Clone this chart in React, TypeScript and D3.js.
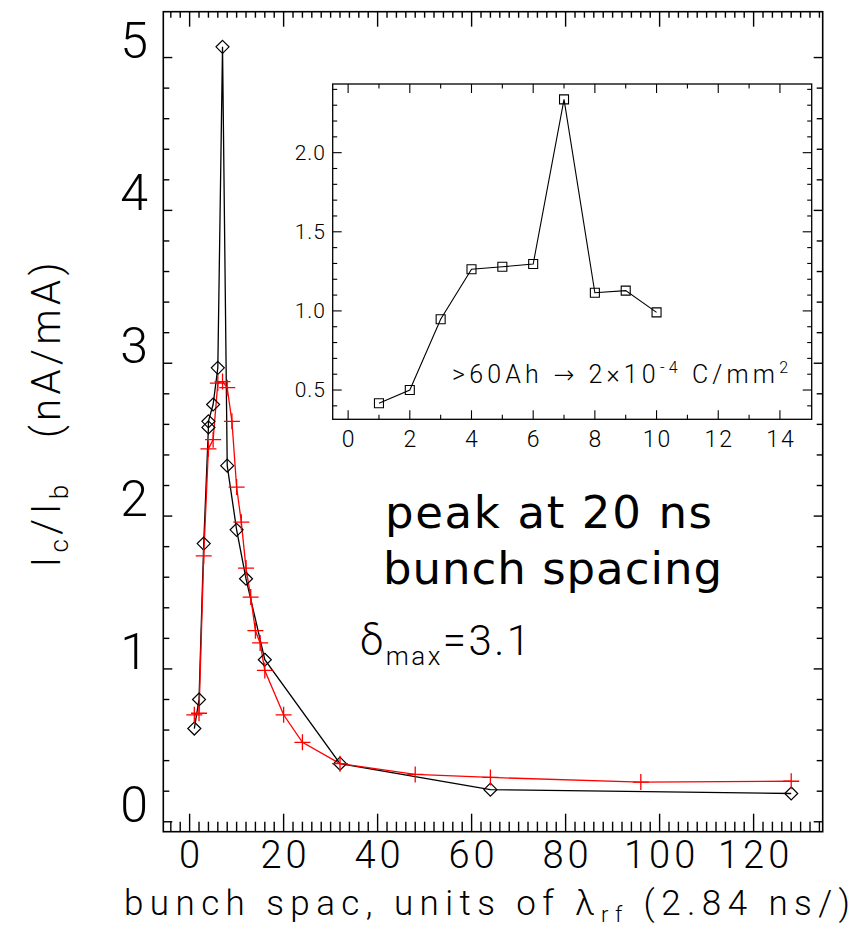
import React from "react";
import * as d3 from "d3";

// ---- main plot data ----
const blackX = [1, 2, 3, 4, 4, 5, 6, 7, 8, 10, 12, 16, 32, 64, 128];
const blackY = [0.61, 0.8, 1.82, 2.58, 2.62, 2.73, 2.97, 5.07, 2.33, 1.91, 1.59, 1.06, 0.38, 0.21, 0.185];

const redX = [1, 2, 3, 4, 5, 6, 7, 8, 9, 10, 11, 12, 13, 14, 15, 16, 20, 24, 32, 48, 64, 96, 128];
const redY = [0.7, 0.71, 1.74, 2.44, 2.5, 2.87, 2.88, 2.84, 2.62, 2.19, 1.96, 1.66, 1.47, 1.25, 1.17, 0.99, 0.7, 0.52, 0.38, 0.31, 0.29, 0.26, 0.265];

const xMajorTicks = [0, 20, 40, 60, 80, 100, 120];
const yMajorTicks = [0, 1, 2, 3, 4, 5];

// ---- inset data ----
const insetX = [1, 2, 3, 4, 5, 6, 7, 8, 9, 10];
const insetY = [0.416, 0.5, 0.947, 1.263, 1.279, 1.296, 2.337, 1.115, 1.128, 0.991];
const insetXTicks = [0, 2, 4, 6, 8, 10, 12, 14];
const insetYTicks = [0.5, 1.0, 1.5, 2.0];

const FONT = "Roboto, 'DejaVu Sans', sans-serif";
const COMIC = "'DejaVu Sans', sans-serif";

export default function App() {
  const xM = d3.scaleLinear().domain([-5.6, 134.7]).range([163.3, 822.7]);
  const yM = d3.scaleLinear().domain([-0.065, 5.3]).range([831.7, 11.7]);
  const xI = d3.scaleLinear().domain([-0.5, 15.03]).range([332.7, 811.7]);
  const yI = d3.scaleLinear().domain([0.315, 2.434]).range([419.3, 84]);

  const xMinor = d3.range(-4, 135, 2).filter((v) => v % 20 !== 0);
  const yMinor = d3.range(0, 26, 1).map((v) => v / 5).filter((v) => Math.abs(v - Math.round(v)) > 1e-6);
  const ixMinor = d3.range(0, 15, 1).filter((v) => v % 2 !== 0);
  const iyMinor = d3.range(4, 25, 1).map((v) => v / 10).filter((v) => Math.abs(v * 2 - Math.round(v * 2)) > 1e-6);

  const blackPts = blackX.map((x, i) => [x, blackY[i]] as [number, number]);
  const redPts = redX.map((x, i) => [x, redY[i]] as [number, number]);
  const insetPts = insetX.map((x, i) => [x, insetY[i]] as [number, number]);

  const lineM = d3.line<[number, number]>().x((d) => xM(d[0])).y((d) => yM(d[1]));
  const lineI = d3.line<[number, number]>().x((d) => xI(d[0])).y((d) => yI(d[1]));

  const mL = xM.range()[0], mR = xM.range()[1], mT = yM.range()[1], mB = yM.range()[0];
  const iL = xI.range()[0], iR = xI.range()[1], iT = yI.range()[1], iB = yI.range()[0];

  const diamond = (cx: number, cy: number, r: number) =>
    `M${cx},${cy - r}L${cx + r},${cy}L${cx},${cy + r}L${cx - r},${cy}Z`;
  const plus = (cx: number, cy: number, r: number) =>
    `M${cx - r},${cy}L${cx + r},${cy}M${cx},${cy - r}L${cx},${cy + r}`;
  const square = (cx: number, cy: number, r: number) =>
    `M${cx - r},${cy - r}H${cx + r}V${cy + r}H${cx - r}Z`;

  return (
    <svg width={863} height={928} style={{ position: "absolute", left: 0, top: 0, background: "#fff" }}>
      <rect x={0} y={0} width={863} height={928} fill="#fff" />
      {/* main frame */}
      <rect x={mL} y={mT} width={mR - mL} height={mB - mT} fill="none" stroke="#000" strokeWidth={1.6} />
      {/* main ticks */}
      <g stroke="#000" strokeWidth={1.4}>
        {xMajorTicks.map((v) => (
          <g key={"xm" + v}>
            <line x1={xM(v)} x2={xM(v)} y1={mB} y2={mB - 18} />
            <line x1={xM(v)} x2={xM(v)} y1={mT} y2={mT + 15} />
          </g>
        ))}
        {xMinor.map((v) => (
          <g key={"xn" + v}>
            <line x1={xM(v)} x2={xM(v)} y1={mB} y2={mB - 10} />
            <line x1={xM(v)} x2={xM(v)} y1={mT} y2={mT + 6} />
          </g>
        ))}
        {yMajorTicks.map((v) => (
          <g key={"ym" + v}>
            <line x1={mL} x2={mL + 9} y1={yM(v)} y2={yM(v)} />
            <line x1={mR} x2={mR - 9} y1={yM(v)} y2={yM(v)} />
          </g>
        ))}
        {yMinor.map((v) => (
          <g key={"yn" + v}>
            <line x1={mL} x2={mL + 6} y1={yM(v)} y2={yM(v)} />
            <line x1={mR} x2={mR - 6} y1={yM(v)} y2={yM(v)} />
          </g>
        ))}
      </g>
      {/* main tick labels */}
      <g fontFamily={FONT} fontWeight={300} fill="#000">
        {xMajorTicks.map((v) => (
          <text key={"xl" + v} x={xM(v) + 2} y={868} fontSize={38} textAnchor="middle" letterSpacing={4}>
            {v}
          </text>
        ))}
        {yMajorTicks.map((v) => (
          <text key={"yl" + v} x={148} y={yM(v)} fontSize={50} textAnchor="end">
            {v}
          </text>
        ))}
      </g>
      {/* axis titles */}
      <text x={124} y={915} fontFamily={FONT} fontWeight={300} fontSize={35} textLength={726} lengthAdjust="spacing" style={{ whiteSpace: "pre" }}>
        bunch spac, units of λ<tspan fontSize={22} dy={7}>rf</tspan>
        <tspan dy={-7}> (2.84 ns/)</tspan>
      </text>
      <text
        transform="translate(60,415) rotate(-90)"
        fontFamily={FONT}
        fontWeight={300}
        fontSize={40}
        textAnchor="middle"
        textLength={305}
        lengthAdjust="spacing"
        style={{ whiteSpace: "pre" }}
      >
        I<tspan fontSize={26} dy={8}>c</tspan>
        <tspan dy={-8}>/I</tspan>
        <tspan fontSize={26} dy={8}>b</tspan>
        <tspan dy={-8}>   (nA/mA)</tspan>
      </text>

      {/* data lines */}
      <path d={lineM(blackPts) || ""} fill="none" stroke="#000" strokeWidth={1.3} />
      <path d={lineM(redPts) || ""} fill="none" stroke="#ff0000" strokeWidth={1.3} />
      {blackPts.map((d, i) => (
        <path key={"bd" + i} d={diamond(xM(d[0]), yM(d[1]), 6.5)} fill="none" stroke="#000" strokeWidth={1.2} />
      ))}
      {redPts.map((d, i) => (
        <path key={"rp" + i} d={plus(xM(d[0]), yM(d[1]), 8)} fill="none" stroke="#ff0000" strokeWidth={1.3} />
      ))}

      {/* annotations */}
      <text x={360} y={655} fontFamily={FONT} fontWeight={300} fontSize={42} textLength={170} lengthAdjust="spacing">
        δ<tspan fontSize={26} dy={10}>max</tspan>
        <tspan dy={-10}>=3.1</tspan>
      </text>
      <text x={385} y={528} fontFamily={COMIC} fontSize={45} textLength={327} lengthAdjust="spacing">
        peak at 20 ns
      </text>
      <text x={383} y={584} fontFamily={COMIC} fontSize={45} textLength={339} lengthAdjust="spacing">
        bunch spacing
      </text>

      {/* inset */}
      <rect x={iL} y={iT} width={iR - iL} height={iB - iT} fill="#fff" stroke="#000" strokeWidth={1.3} />
      <g stroke="#000" strokeWidth={1.1}>
        {insetXTicks.map((v) => (
          <g key={"ixm" + v}>
            <line x1={xI(v)} x2={xI(v)} y1={iB} y2={iB - 9} />
            <line x1={xI(v)} x2={xI(v)} y1={iT} y2={iT + 9} />
          </g>
        ))}
        {ixMinor.map((v) => (
          <g key={"ixn" + v}>
            <line x1={xI(v)} x2={xI(v)} y1={iB} y2={iB - 4.5} />
            <line x1={xI(v)} x2={xI(v)} y1={iT} y2={iT + 4.5} />
          </g>
        ))}
        {insetYTicks.map((v) => (
          <g key={"iym" + v}>
            <line x1={iL} x2={iL + 9} y1={yI(v)} y2={yI(v)} />
            <line x1={iR} x2={iR - 9} y1={yI(v)} y2={yI(v)} />
          </g>
        ))}
        {iyMinor.map((v) => (
          <g key={"iyn" + v}>
            <line x1={iL} x2={iL + 4.5} y1={yI(v)} y2={yI(v)} />
            <line x1={iR} x2={iR - 4.5} y1={yI(v)} y2={yI(v)} />
          </g>
        ))}
      </g>
      <g fontFamily={FONT} fontWeight={300} fill="#000">
        {insetXTicks.map((v) => (
          <text key={"ixl" + v} x={xI(v) + 1} y={447} fontSize={23} textAnchor="middle" letterSpacing={2}>
            {v}
          </text>
        ))}
        {insetYTicks.map((v) => (
          <text key={"iyl" + v} x={326} y={yI(v) + 7} fontSize={21} textAnchor="end" letterSpacing={1}>
            {v.toFixed(1)}
          </text>
        ))}
      </g>
      <path d={lineI(insetPts) || ""} fill="none" stroke="#000" strokeWidth={1.1} />
      {insetPts.map((d, i) => (
        <path key={"is" + i} d={square(xI(d[0]), yI(d[1]), 4.5)} fill="none" stroke="#000" strokeWidth={1.1} />
      ))}
      <text x={452} y={383} fontFamily={FONT} fontWeight={300} fontSize={25} textLength={336} lengthAdjust="spacing" style={{ whiteSpace: "pre" }}>
        &gt;60Ah → 2×10<tspan fontSize={16} dy={-10}>-4</tspan>
        <tspan dy={10}> C/mm</tspan>
        <tspan fontSize={16} dy={-10}>2</tspan>
      </text>
    </svg>
  );
}
